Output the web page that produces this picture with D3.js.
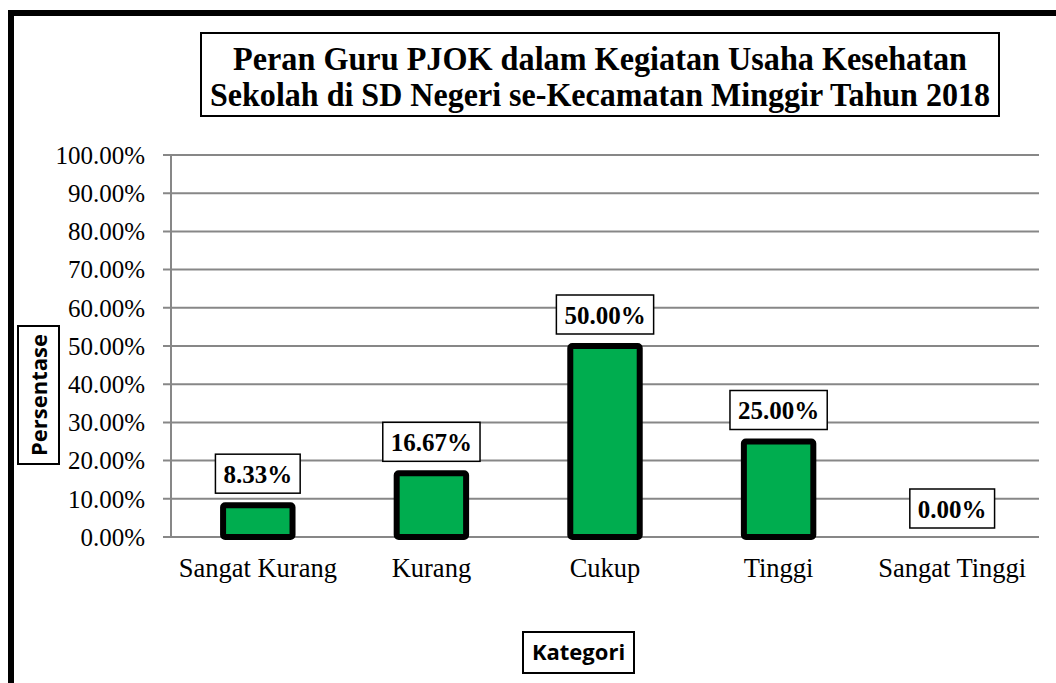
<!DOCTYPE html>
<html>
<head>
<meta charset="utf-8">
<script src="https://cdn.jsdelivr.net/npm/d3@7"></script>
<style>
  body { margin: 0; background: #fff; }
  svg { display: block; }
</style>
</head>
<body>
<div id="chart"></div>
<script>
const categories = ["Sangat Kurang", "Kurang", "Cukup", "Tinggi", "Sangat Tinggi"];
const values = [0.0833, 0.1667, 0.50, 0.25, 0.00];
const valueLabels = ["8.33%", "16.67%", "50.00%", "25.00%", "0.00%"];
const yTicks = [0, 0.1, 0.2, 0.3, 0.4, 0.5, 0.6, 0.7, 0.8, 0.9, 1.0];
const titleLines = ["Peran Guru PJOK dalam Kegiatan Usaha Kesehatan",
                    "Sekolah di SD Negeri se-Kecamatan Minggir Tahun 2018"];

const width = 1056, height = 683;
const serif = "'Liberation Serif', 'Times New Roman', serif";
const sans = "'Open Sans', 'Liberation Sans', sans-serif";

const svg = d3.select("#chart").append("svg")
    .attr("width", width)
    .attr("height", height);

// outer chart frame (clipped on right and bottom like the original)
svg.append("rect")
    .attr("x", 11).attr("y", 13)
    .attr("width", 1100).attr("height", 800)
    .attr("fill", "#fff")
    .attr("stroke", "#000")
    .attr("stroke-width", 6);

// title box
svg.append("rect")
    .attr("x", 201).attr("y", 33)
    .attr("width", 798).attr("height", 83)
    .attr("fill", "#fff")
    .attr("stroke", "#000")
    .attr("stroke-width", 2);

const titleWidths = [734, 780];
svg.selectAll(".title")
    .data(titleLines)
    .join("text")
    .attr("class", "title")
    .attr("x", 600)
    .attr("y", (d, i) => 70 + i * 36)
    .attr("text-anchor", "middle")
    .attr("font-family", serif)
    .attr("font-weight", "bold")
    .attr("font-size", 33)
    .attr("textLength", (d, i) => titleWidths[i])
    .attr("lengthAdjust", "spacingAndGlyphs")
    .text(d => d);

// scales
const x = d3.scaleBand()
    .domain(categories)
    .range([171, 1039])
    .paddingInner(0.6)
    .paddingOuter(0.3);

const y = d3.scaleLinear()
    .domain([0, 1])
    .range([537, 155]);

// gridlines
svg.append("g")
    .selectAll("line")
    .data(yTicks)
    .join("line")
    .attr("x1", 163).attr("x2", 1039)
    .attr("y1", d => y(d)).attr("y2", d => y(d))
    .attr("stroke", "#878787")
    .attr("stroke-width", 2);

// y axis line
svg.append("line")
    .attr("x1", 171).attr("x2", 171)
    .attr("y1", y(1)).attr("y2", y(0))
    .attr("stroke", "#878787")
    .attr("stroke-width", 2);

// y tick labels
svg.append("g")
    .selectAll("text")
    .data(yTicks)
    .join("text")
    .attr("x", 145)
    .attr("y", d => y(d))
    .attr("dy", "0.35em")
    .attr("text-anchor", "end")
    .attr("font-family", serif)
    .attr("font-size", 25)
    .text(d => d3.format(".2%")(d));

// bars
svg.append("g")
    .selectAll("rect")
    .data(values)
    .join("rect")
    .filter(d => d > 0)
    .attr("x", (d, i) => x(categories[values.indexOf(d)]))
    .attr("y", d => y(d))
    .attr("width", x.bandwidth())
    .attr("height", d => y(0) - y(d))
    .attr("rx", 2)
    .attr("fill", "#00AD4F")
    .attr("stroke", "#000")
    .attr("stroke-width", 6);

// value labels with boxes
const lab = svg.append("g")
    .selectAll("g")
    .data(values)
    .join("g")
    .attr("transform", (d, i) => {
        const cx = x(categories[i]) + x.bandwidth() / 2;
        const top = d > 0 ? y(d) - 3 : y(d);
        return `translate(${cx},${top - 28})`;
    });

lab.append("text")
    .attr("text-anchor", "middle")
    .attr("font-family", serif)
    .attr("font-weight", "bold")
    .attr("font-size", 25)
    .attr("dy", "0.35em")
    .text((d, i) => valueLabels[i]);

lab.each(function() {
    const g = d3.select(this);
    const w = g.select("text").node().getComputedTextLength();
    g.insert("rect", "text")
        .attr("x", -w / 2 - 8)
        .attr("y", -20)
        .attr("width", w + 16)
        .attr("height", 39)
        .attr("fill", "#fff")
        .attr("stroke", "#000")
        .attr("stroke-width", 1.5);
});

// category labels
svg.append("g")
    .selectAll("text")
    .data(categories)
    .join("text")
    .attr("x", d => x(d) + x.bandwidth() / 2)
    .attr("y", 577)
    .attr("text-anchor", "middle")
    .attr("font-family", serif)
    .attr("font-size", 26.5)
    .text(d => d);

// y axis title
svg.append("rect")
    .attr("x", 18).attr("y", 326)
    .attr("width", 41).attr("height", 138)
    .attr("fill", "#fff")
    .attr("stroke", "#000")
    .attr("stroke-width", 2);

svg.append("text")
    .attr("transform", "translate(47,395) rotate(-90)")
    .attr("text-anchor", "middle")
    .attr("font-family", sans)
    .attr("font-weight", "bold")
    .attr("font-size", 22)
    .text("Persentase");

// x axis title
svg.append("rect")
    .attr("x", 523).attr("y", 632)
    .attr("width", 111).attr("height", 41)
    .attr("fill", "#fff")
    .attr("stroke", "#000")
    .attr("stroke-width", 2);

svg.append("text")
    .attr("x", 578.5)
    .attr("y", 660)
    .attr("text-anchor", "middle")
    .attr("font-family", sans)
    .attr("font-weight", "bold")
    .attr("font-size", 22)
    .text("Kategori");
</script>
</body>
</html>
